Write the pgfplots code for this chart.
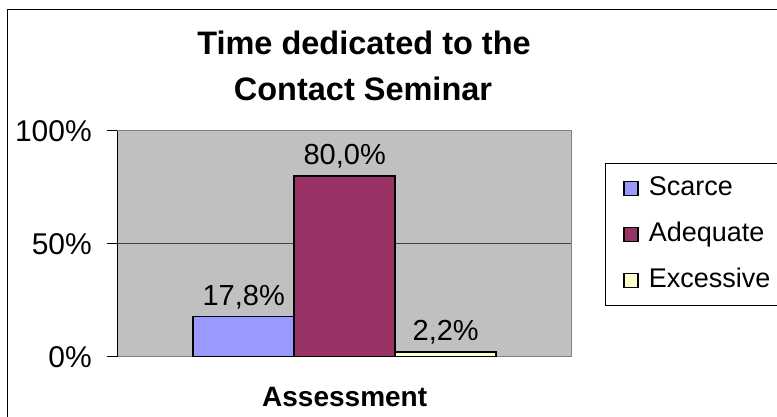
\documentclass[border=0pt]{standalone}
\usepackage{pgfplots}
\pgfplotsset{compat=1.18}
\usepackage{fontspec}
\setmainfont{Liberation Sans}
\definecolor{cBlue}{RGB}{153,153,255}
\definecolor{cPurple}{RGB}{153,51,102}
\definecolor{cYellow}{RGB}{255,255,204}
\definecolor{cPlot}{RGB}{192,192,192}
\definecolor{cFrame}{RGB}{128,128,128}
\pgfplotsset{
  sqlegend/.style={legend image code/.code={%
    \draw[##1, draw=black, line width=1.4pt] (0pt,-7pt) rectangle (14pt,7pt);
    \path (24pt,0pt);}},
}
\begin{document}
\begin{tikzpicture}
\useasboundingbox (0pt,0pt) rectangle (777pt,416pt);
\clip (0pt,0pt) rectangle (777pt,416pt);
\fill[white] (0pt,0pt) rectangle (777pt,416pt);
\draw[black, line width=1.3pt] (7.5pt,-20pt) rectangle (800pt,406.5pt);
\node[font=\fontsize{32.5}{39}\selectfont\bfseries, anchor=base, inner sep=0pt] at (364pt,361pt) {Time dedicated to the};
\node[font=\fontsize{32.5}{39}\selectfont\bfseries, anchor=base, inner sep=0pt] at (363pt,316pt) {Contact Seminar};
\begin{axis}[
  at={(117.7pt,59.3pt)}, anchor=south west,
  scale only axis, width=454pt, height=226pt,
  xmin=-2.2475, xmax=2.2475, ymin=0, ymax=100,
  ybar=0pt, bar width=101pt,
  axis background/.style={fill=cPlot},
  axis line style={draw=cFrame, line width=1.5pt},
  xtick=\empty,
  ytick={0,50,100}, yticklabels={0\%,50\%,100\%},
  ytick pos=left, tick align=outside, major tick length=11pt,
  ytick style={black, line width=1pt},
  ymajorgrids, grid style={black!75, line width=0.9pt},
  /pgf/number format/assume math mode=true,
  yticklabel style={font=\fontsize{30}{36}\selectfont, inner sep=0pt, xshift=-14.7pt},
  xlabel={\bfseries Assessment},
  xlabel style={font=\fontsize{28}{34}\selectfont, at={(axis description cs:0.5,0)}, anchor=base, yshift=-50pt, inner sep=0pt},
  point meta=explicit symbolic,
  nodes near coords,
  nodes near coords style={font=\fontsize{29}{35}\selectfont, anchor=base, inner sep=0pt, yshift=11pt, text=black},
  legend style={at={(rel axis cs:1.0733,0.857)}, anchor=north west, draw=black, line width=0.8pt, fill=white,
    inner xsep=18pt, inner ysep=12pt, row sep=20pt,
    nodes={inner sep=0pt, text height=20pt, text depth=6pt, font=\fontsize{27}{32}\selectfont}},
  legend cell align=left,
  extra description/.code={\draw[black, line width=1.5pt] (rel axis cs:0,0) -- (rel axis cs:0,1);},
]
\addplot[fill=cBlue, draw=black, line width=1.6pt, sqlegend] coordinates {(0,17.8) [17,8\%]};
\addplot[fill=cPurple, draw=black, line width=1.6pt, sqlegend] coordinates {(0,80.0) [80,0\%]};
\addplot[fill=cYellow, draw=black, line width=1.6pt, sqlegend] coordinates {(0,2.2) [2,2\%]};
\legend{Scarce,Adequate,Excessive}
\end{axis}
\end{tikzpicture}
\end{document}
